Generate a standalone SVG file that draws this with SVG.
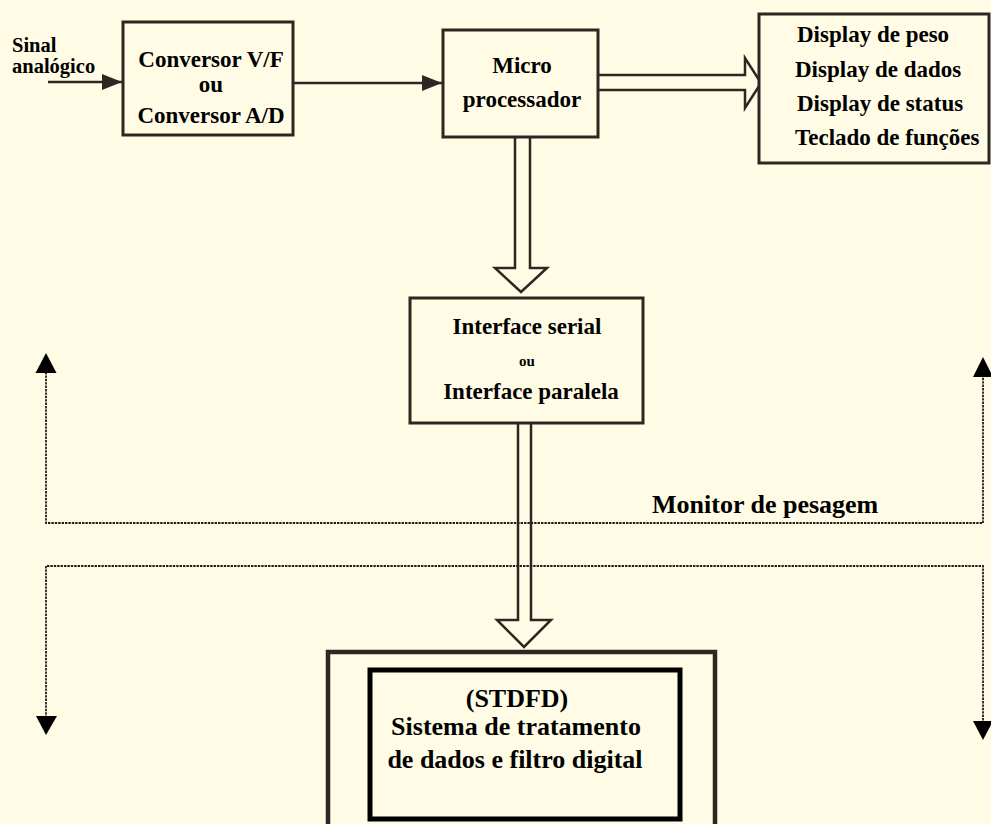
<svg xmlns="http://www.w3.org/2000/svg" width="991" height="824" viewBox="0 0 991 824">
  <style>
    .bg { fill: #fffbe5; }
    .box { fill: #fffbe5; stroke: #2b2823; stroke-width: 3; }
    .thick { fill: #fffbe5; stroke: #2b2823; stroke-width: 4.5; }
    .inner { fill: #fffbe5; stroke: #000; stroke-width: 5; }
    .wire { fill: none; stroke: #2b2823; stroke-width: 2.5; }
    .bus { fill: none; stroke: #2b2823; stroke-width: 2.5; stroke-linejoin: miter; }
    .dots { fill: none; stroke: #1e1e1e; stroke-width: 1.8; stroke-dasharray: 2.4 1; }
    .head { fill: #000; stroke: none; }
    text { font-family: "Liberation Serif", "Times New Roman", serif; font-weight: bold; fill: #000; }
    .t23 { font-size: 23px; }
    .t20 { font-size: 20.5px; }
    .t26 { font-size: 26px; }
    .t15 { font-size: 15px; }
    .mid { text-anchor: middle; }
  </style>
  <defs>
    <marker id="solid" viewBox="0 0 20 16" refX="20" refY="8" markerWidth="20" markerHeight="16" markerUnits="userSpaceOnUse" orient="auto">
      <path d="M0,0 L20,8 L0,16 Z" fill="#2b2823"/>
    </marker>
  </defs>

  <rect class="bg" x="0" y="0" width="991" height="824"/>

  <!-- connectors -->
  <g id="connectors">
    <!-- analog input into the converter -->
    <line class="wire" x1="48" y1="82" x2="122" y2="82" marker-end="url(#solid)"/>
    <!-- converter to microprocessor -->
    <line class="wire" x1="293" y1="83" x2="442" y2="83" marker-end="url(#solid)"/>
    <!-- microprocessor to displays (bus arrow) -->
    <path class="bus" d="M598,75 H745 V58 L761,83 L745,108 V90 H598"/>
    <!-- microprocessor to interface (bus arrow) -->
    <path class="bus" d="M515,137 V268 H495 L521,292 L547,268 H530 V137"/>
    <!-- interface to STDFD (bus arrow) -->
    <path class="bus" d="M518,423 V620 H497 L524,647 L551,620 H531 V423"/>
    <!-- upper dotted loop (up arrows) -->
    <path class="dots" d="M46,372 V523 H983 V376"/>
    <path class="head" d="M46,353 L35.5,373 L56.5,373 Z"/>
    <path class="head" d="M983,357 L973,377 L993,377 Z"/>
    <!-- lower dotted loop (down arrows) -->
    <path class="dots" d="M46,718 V566 H983 V722"/>
    <path class="head" d="M46,735 L36,716 L57,716 Z"/>
    <path class="head" d="M983,740 L973,721 L993,721 Z"/>
  </g>

  <g id="sinal">
    <text class="t20" x="12" y="52">Sinal</text>
    <text class="t20" x="12" y="73">analógico</text>
  </g>

  <g id="conversor">
    <rect class="box" x="123" y="22" width="170" height="113"/>
    <text class="t23 mid" x="211" y="67">Conversor V/F</text>
    <text class="t23 mid" x="211" y="92">ou</text>
    <text class="t23 mid" x="211" y="123">Conversor A/D</text>
  </g>

  <g id="micro">
    <rect class="box" x="443" y="30" width="155" height="107"/>
    <text class="t23 mid" x="522" y="73">Micro</text>
    <text class="t23 mid" x="522" y="107">processador</text>
  </g>

  <g id="displays">
    <rect class="box" x="759" y="14" width="230" height="149"/>
    <text class="t23" x="797" y="42">Display de peso</text>
    <text class="t23" x="795" y="77">Display de dados</text>
    <text class="t23" x="797" y="111">Display de status</text>
    <text class="t23" x="795" y="145">Teclado de funções</text>
  </g>

  <g id="interface">
    <rect class="box" x="410" y="298" width="233" height="125"/>
    <text class="t23 mid" x="527" y="334">Interface serial</text>
    <text class="t15 mid" x="527" y="366">ou</text>
    <text class="t23 mid" x="531" y="399">Interface paralela</text>
  </g>

  <g id="monitor">
    <text class="t26" x="652" y="513">Monitor de pesagem</text>
  </g>

  <g id="stdfd">
    <rect class="thick" x="328" y="652" width="387" height="180"/>
    <rect class="inner" x="370" y="670" width="310" height="149"/>
    <text class="t26 mid" x="517" y="707">(STDFD)</text>
    <text class="t26 mid" x="516" y="735">Sistema de tratamento</text>
    <text class="t26 mid" x="515" y="768">de dados e filtro digital</text>
  </g>
</svg>
